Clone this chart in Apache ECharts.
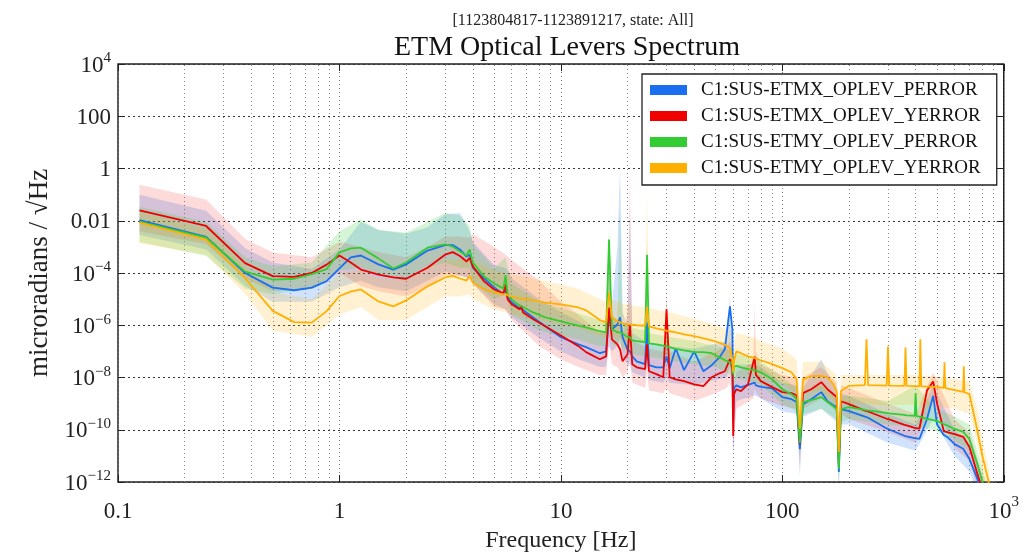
<!DOCTYPE html>
<html>
<head>
<meta charset="utf-8">
<title>ETM Optical Levers Spectrum</title>
<script src="https://cdn.jsdelivr.net/npm/echarts@6.0.0/dist/echarts.min.js"></script>
<style>
  html, body { margin: 0; padding: 0; background: #fff; }
  #chart { width: 1022px; height: 558px; }
</style>
</head>
<body>
<div id="chart"></div>
<script>
// values are log10(microradians / sqrt(Hz))
const freq = [
  0.125, 0.25, 0.375, 0.5, 0.625, 0.75, 0.875, 1, 1.125, 1.25,
  1.5, 1.75, 2, 2.5, 3, 3.25, 3.5, 3.75, 3.875, 4,
  4.5, 5, 5.5, 5.625, 5.75, 6, 6.5, 6.625, 6.75, 7.5,
  8.5, 10, 12, 13, 15, 16, 16.5, 17, 18, 18.5,
  19, 20, 20.5, 21, 22, 24, 24.5, 25, 27, 29,
  30, 31, 33, 36, 40, 44, 48, 52, 55, 58,
  59.5, 60, 60.5, 62, 65, 70, 75, 76, 80, 90,
  100, 110, 116, 120, 124, 135, 150, 160, 170, 176,
  180, 184, 200, 236, 240, 244, 296, 300, 304, 356,
  360, 364, 396, 400, 404, 416, 420, 424, 450, 480,
  500, 536, 540, 544, 560, 600, 656, 660, 664, 700,
  760, 800, 850, 900
];

const etmxPitch = [
  -1.98, -2.62, -4.00, -4.56, -4.66, -4.56, -4.31, -3.82, -3.40, -3.33,
  -3.67, -3.87, -3.67, -3.14, -2.93, -2.93, -3.10, -3.37, -3.30, -3.79,
  -4.21, -4.55, -4.82, -4.63, -4.93, -5.12, -5.35, -5.36, -5.42, -5.70,
  -6.04, -6.46, -6.73, -6.84, -7.07, -7.00, -5.66, -6.16, -5.97, -5.70,
  -6.46, -6.92, -7.00, -7.19, -7.38, -7.49, -5.90, -7.53, -7.61, -7.61,
  -7.20, -7.65, -6.88, -7.72, -7.00, -7.76, -7.53, -7.23, -6.92, -5.28,
  -6.16, -9.60, -8.40, -8.30, -8.38, -8.28, -8.20, -8.30, -8.36, -8.42,
  -8.75, -8.83, -8.94, -10.74, -9.02, -8.83, -8.56, -8.91, -9.06, -9.13,
  -11.62, -9.21, -9.29, -9.50, -9.52, -9.54, -9.95, -9.97, -9.99, -10.23,
  -10.24, -10.25, -10.32, -10.33, -10.34, -10.35, -10.36, -10.36, -9.60, -8.70,
  -9.80, -10.20, -10.22, -10.24, -10.30, -10.55, -10.73, -10.74, -10.75, -11.12,
  -11.88, -12.46, -13.2, -14.0
];

const etmxYaw = [
  -1.60, -2.20, -3.62, -4.12, -4.15, -4.00, -3.68, -3.33, -3.60, -3.87,
  -4.06, -4.17, -4.22, -3.80, -3.30, -3.20, -3.35, -3.56, -3.42, -3.74,
  -4.32, -4.63, -4.78, -4.44, -5.01, -5.20, -5.39, -5.25, -5.51, -5.77,
  -6.04, -6.39, -6.80, -7.03, -7.30, -7.19, -5.32, -6.54, -6.73, -6.92,
  -7.38, -7.11, -6.00, -7.49, -7.61, -7.68, -6.73, -7.76, -7.87, -7.99,
  -5.39, -7.99, -8.07, -8.14, -8.26, -8.33, -7.99, -7.84, -7.76, -7.30,
  -7.68, -10.24, -8.64, -8.45, -8.52, -8.26, -7.20, -7.90, -8.14, -8.37,
  -8.56, -8.60, -8.68, -10.55, -8.60, -8.45, -8.18, -8.45, -8.64, -8.75,
  -11.31, -8.91, -9.02, -9.27, -9.29, -9.30, -9.58, -9.59, -9.60, -9.81,
  -9.82, -9.83, -9.93, -9.94, -9.95, -9.96, -9.97, -9.95, -8.50, -8.15,
  -9.00, -10.05, -10.07, -10.08, -10.10, -10.17, -10.27, -10.28, -10.29, -10.66,
  -11.69, -12.27, -13.0, -14.0
];

const etmyPitch = [
  -2.03, -2.65, -3.95, -4.25, -4.22, -4.04, -3.85, -3.21, -3.06, -3.03,
  -3.44, -3.83, -3.60, -3.03, -2.90, -2.99, -3.18, -3.33, -3.10, -3.60,
  -4.13, -4.40, -4.59, -4.09, -4.82, -5.01, -5.24, -5.27, -5.30, -5.51,
  -5.70, -5.85, -6.01, -6.08, -6.23, -6.27, -2.72, -6.16, -6.27, -6.27,
  -6.31, -6.46, -6.46, -6.58, -6.61, -6.65, -3.30, -6.69, -6.73, -6.78,
  -6.81, -6.84, -6.90, -6.96, -7.03, -7.03, -7.07, -7.23, -7.33, -7.42,
  -7.49, -7.88, -7.60, -7.55, -7.61, -7.68, -7.72, -7.74, -7.80, -8.07,
  -8.45, -8.64, -8.83, -10.50, -8.94, -8.87, -8.75, -8.94, -9.10, -9.21,
  -11.50, -9.21, -9.13, -9.24, -9.25, -9.26, -9.35, -9.36, -9.37, -9.43,
  -9.44, -9.45, -9.47, -8.60, -9.48, -9.50, -9.50, -9.51, -9.58, -9.63,
  -9.67, -9.78, -9.79, -9.80, -9.85, -9.97, -10.08, -10.09, -10.10, -10.36,
  -11.31, -11.96, -12.8, -13.6
];

const etmyYaw = [
  -2.07, -2.72, -4.20, -5.45, -5.88, -5.90, -5.46, -4.88, -4.71, -4.63,
  -5.09, -5.28, -5.05, -4.51, -4.17, -4.11, -4.21, -4.29, -4.11, -4.36,
  -4.63, -4.74, -4.82, -4.80, -4.86, -4.90, -4.97, -4.98, -4.99, -5.05,
  -5.13, -5.20, -5.32, -5.43, -5.80, -5.90, -4.76, -5.70, -5.85, -5.88,
  -5.93, -5.97, -5.97, -5.98, -6.00, -6.02, -5.30, -6.04, -6.12, -6.18,
  -6.21, -6.23, -6.27, -6.35, -6.42, -6.50, -6.58, -6.67, -6.75, -6.88,
  -7.30, -7.80, -7.38, -7.00, -7.07, -7.19, -7.26, -7.27, -7.34, -7.49,
  -7.64, -7.80, -8.07, -9.97, -8.07, -7.95, -7.94, -7.99, -8.26, -8.52,
  -10.85, -8.52, -8.32, -8.29, -6.54, -8.29, -8.31, -6.81, -8.31, -8.32,
  -6.85, -8.32, -8.33, -8.33, -8.33, -8.34, -6.54, -8.34, -8.35, -8.36,
  -8.37, -8.40, -7.42, -8.40, -8.43, -8.48, -8.55, -7.57, -8.56, -8.64,
  -10.03, -10.99, -11.9, -13.0
];

// percentile bands, on a coarser grid
const bandFreq = [
  0.125, 0.25, 0.375, 0.5, 0.75, 1, 1.25, 1.5, 2, 2.5,
  3, 3.5, 3.875, 4, 5, 5.625, 6, 8, 10, 12,
  15, 16, 16.5, 17, 18, 18.5, 19, 20, 20.5, 21,
  24, 24.5, 25, 29, 30, 31, 40, 50, 56, 58,
  59, 60, 62, 74, 75, 76, 80, 100, 116, 120,
  124, 150, 176, 180, 184, 200, 300, 400, 480, 600,
  700, 760, 800, 850, 900
];

const etmxPitchHi = [
  -1.00, -1.62, -3.05, -3.60, -3.85, -3.10, -2.05, -2.35, -2.50, -2.25,
  -1.75, -1.70, -2.40, -2.80, -3.70, -3.80, -4.20, -5.00, -5.50, -5.85,
  -6.30, -6.30, -3.50, -5.20, -3.00, 0.10, -5.50, -6.00, -1.80, -6.30,
  -6.60, -5.00, -6.70, -6.80, -6.60, -6.80, -6.90, -6.70, -6.60, -4.90,
  -6.00, -8.50, -7.50, -7.50, -7.40, -7.50, -7.60, -8.20, -8.30, -10.00,
  -8.40, -7.30, -8.60, -10.50, -8.60, -8.70, -9.40, -9.80, -8.30, -10.00,
  -10.60, -11.30, -11.90, -12.60, -13.40
];
const etmxPitchLo = [
  -2.55, -3.10, -4.50, -5.10, -5.10, -4.55, -4.30, -4.55, -4.70, -4.30,
  -3.95, -4.10, -4.20, -4.40, -5.20, -5.40, -5.70, -6.50, -7.00, -7.30,
  -7.60, -7.60, -6.80, -7.00, -6.80, -6.50, -7.20, -7.50, -7.50, -7.80,
  -8.00, -7.50, -8.10, -8.20, -8.00, -8.20, -8.30, -8.10, -8.00, -7.60,
  -8.20, -10.80, -8.90, -8.70, -8.70, -8.70, -8.80, -9.30, -9.40, -11.80,
  -9.50, -9.20, -9.70, -12.50, -9.80, -9.80, -10.50, -10.80, -9.60, -11.00,
  -11.60, -12.40, -13.00, -13.70, -14.50
];
const etmxYawHi = [
  -0.62, -1.19, -2.70, -3.22, -3.40, -2.80, -3.00, -3.20, -3.40, -3.00,
  -2.60, -2.60, -2.65, -2.50, -3.00, -3.30, -3.50, -4.30, -5.10, -5.60,
  -6.30, -6.30, -4.40, -5.60, -5.90, -6.00, -6.40, -5.50, -0.15, -6.60,
  -6.80, -5.80, -6.90, -7.00, -4.80, -7.00, -7.40, -7.00, -6.80, -6.60,
  -6.80, -8.50, -7.80, -7.40, -5.20, -7.00, -7.50, -7.90, -8.00, -9.80,
  -8.00, -7.60, -8.20, -10.20, -8.30, -8.40, -9.00, -9.40, -7.80, -9.60,
  -10.10, -11.10, -11.70, -12.40, -13.20
];
const etmxYawLo = [
  -2.40, -2.90, -4.20, -4.70, -4.60, -4.00, -4.50, -4.70, -4.90, -4.55,
  -4.10, -4.10, -4.20, -4.40, -5.30, -5.40, -5.80, -6.80, -7.30, -7.60,
  -7.90, -7.90, -6.60, -7.50, -7.60, -7.80, -8.00, -7.80, -7.30, -8.20,
  -8.40, -7.80, -8.50, -8.60, -8.40, -8.60, -8.90, -8.60, -8.40, -8.20,
  -8.50, -11.00, -9.20, -8.80, -8.40, -8.60, -8.80, -9.10, -9.20, -11.40,
  -9.20, -8.80, -9.30, -12.00, -9.40, -9.60, -10.10, -10.50, -8.90, -10.70,
  -11.20, -12.20, -12.80, -13.50, -14.30
];
const etmyPitchHi = [
  -1.46, -2.05, -3.40, -3.75, -3.60, -2.40, -1.95, -2.35, -2.45, -2.05,
  -1.70, -1.80, -2.20, -2.90, -3.80, -3.40, -4.40, -5.10, -5.35, -5.55,
  -5.80, -5.80, -2.20, -5.60, -5.80, -1.50, -5.90, -6.00, -6.00, -6.10,
  -6.20, -2.90, -6.30, -6.40, -6.40, -6.45, -6.60, -6.80, -6.90, -7.00,
  -7.00, -7.50, -7.10, -7.20, -7.20, -7.20, -7.40, -8.00, -8.40, -9.80,
  -8.50, -8.30, -8.70, -10.60, -8.70, -8.70, -8.90, -8.30, -9.10, -9.50,
  -9.80, -10.80, -11.50, -12.30, -13.10
];
const etmyPitchLo = [
  -2.80, -3.35, -4.60, -4.80, -4.60, -3.90, -3.80, -4.10, -4.30, -3.80,
  -3.60, -3.80, -3.80, -4.30, -5.00, -4.80, -5.60, -6.20, -6.40, -6.55,
  -6.80, -6.80, -4.50, -6.70, -6.80, -6.70, -6.90, -7.00, -7.00, -7.10,
  -7.20, -4.50, -7.20, -7.30, -7.30, -7.35, -7.50, -7.60, -7.80, -7.90,
  -7.90, -8.60, -8.00, -8.20, -8.20, -8.20, -8.30, -9.00, -9.30, -11.00,
  -9.40, -9.20, -9.60, -12.00, -9.70, -9.60, -9.80, -9.90, -10.00, -10.40,
  -10.80, -11.80, -12.50, -13.30, -14.10
];
const etmyYawHi = [
  -1.66, -2.30, -3.70, -4.74, -5.00, -4.00, -3.90, -4.20, -4.30, -3.80,
  -3.50, -3.50, -3.40, -3.50, -3.90, -4.00, -4.05, -4.25, -4.45, -4.60,
  -5.00, -5.10, -3.90, -5.00, -5.10, -5.10, -5.20, -5.20, -5.20, -5.25,
  -5.30, -0.90, -5.35, -5.45, -5.50, -5.50, -5.75, -6.00, -6.15, -6.20,
  -6.25, -6.90, -6.30, -6.45, -6.50, -6.50, -6.60, -6.90, -7.30, -9.00,
  -7.40, -7.40, -7.90, -10.00, -7.90, -7.90, -7.90, -7.90, -7.95, -8.05,
  -8.15, -9.20, -10.30, -11.40, -12.50
];
const etmyYawLo = [
  -2.87, -3.30, -4.80, -6.20, -6.45, -5.60, -5.30, -5.80, -5.80, -5.30,
  -4.90, -4.90, -4.80, -5.00, -5.40, -5.50, -5.60, -5.80, -6.00, -6.10,
  -6.40, -6.50, -5.70, -6.40, -6.50, -6.50, -6.60, -6.60, -6.60, -6.60,
  -6.70, -5.90, -6.70, -6.80, -6.80, -6.80, -7.10, -7.30, -7.45, -7.50,
  -7.55, -8.60, -7.60, -7.85, -7.90, -7.90, -8.00, -8.20, -8.60, -10.60,
  -8.60, -8.50, -9.00, -11.30, -9.00, -9.00, -9.05, -9.05, -9.10, -9.20,
  -9.40, -10.60, -11.70, -12.60, -13.60
];

const names = [
  'C1:SUS-ETMX_OPLEV_PERROR',
  'C1:SUS-ETMX_OPLEV_YERROR',
  'C1:SUS-ETMY_OPLEV_PERROR',
  'C1:SUS-ETMY_OPLEV_YERROR'
];
const medians = [etmxPitch, etmxYaw, etmyPitch, etmyYaw];
const highs = [etmxPitchHi, etmxYawHi, etmyPitchHi, etmyYawHi];
const lows = [etmxPitchLo, etmxYawLo, etmyPitchLo, etmyYawLo];

const colors = ['#1a6ff0', '#f00000', '#33cc33', '#ffb000'];
const bandColors = [
  'rgba(26,111,240,0.2)',
  'rgba(240,0,0,0.14)',
  'rgba(51,204,51,0.2)',
  'rgba(255,176,0,0.18)'
];

// log-axis minor grid positions (2..9 in each decade)
const decades = [0.1, 1, 10, 100];
const minorSteps = [2, 3, 4, 5, 6, 7, 8, 9];
const minorGrid = [];
decades.forEach(d => minorSteps.forEach(m => minorGrid.push(+(d * m).toPrecision(3))));

const FONT = 'Liberation Serif';

function powLabel(v, plain) {
  const n = Math.round(Math.log10(v));
  if (plain[n] !== undefined) return '{b|' + plain[n] + '}';
  return '{b|10}{s|' + (n < 0 ? '\u2212' + (-n) : n) + '}';
}
const richX = {
  b: { fontFamily: FONT, fontSize: 23, lineHeight: 28, verticalAlign: 'bottom', color: '#222' },
  s: { fontFamily: FONT, fontSize: 15, lineHeight: 12, verticalAlign: 'top', color: '#222' }
};
const richY = {
  b: { fontFamily: FONT, fontSize: 23, lineHeight: 26, verticalAlign: 'bottom', color: '#222' },
  s: { fontFamily: FONT, fontSize: 15, lineHeight: 10, verticalAlign: 'top', color: '#222' }
};

function bandSeries(k) {
  const upper = bandFreq.map((f, i) => [f, 10 ** highs[k][i]]);
  const lower = bandFreq.map((f, i) => [f, 10 ** lows[k][i]]).reverse();
  const outline = upper.concat(lower);
  return {
    type: 'custom', name: names[k] + ' band', silent: true, z: 1, clip: true,
    encode: { x: 0, y: 1 },
    data: outline,
    renderItem: (params, api) => {
      if (params.dataIndex !== 0) return;
      const cs = params.coordSys;
      return {
        type: 'polygon',
        shape: { points: outline.map(p => api.coord(p)) },
        style: { fill: bandColors[k] },
        clipPath: { type: 'rect', shape: { x: cs.x, y: cs.y, width: cs.width, height: cs.height } }
      };
    }
  };
}

const series = names.map((n, k) => bandSeries(k));
names.forEach((name, k) => {
  series.push({
    name, type: 'line', color: colors[k],
    data: freq.map((f, i) => [f, 10 ** medians[k][i]]),
    symbol: 'none', lineStyle: { width: 1.8, color: colors[k] }, z: 3
  });
});
series[4].markLine = {
  silent: true, symbol: 'none', label: { show: false },
  lineStyle: { type: [1, 3], color: '#888', width: 1 },
  data: minorGrid.map(x => ({ xAxis: x })),
  z: 0
};

const chart = echarts.init(document.getElementById('chart'));
chart.setOption({
  animation: false,
  backgroundColor: '#fff',
  textStyle: { fontFamily: FONT },
  title: [
    {
      text: '[1123804817-1123891217, state: All]',
      left: 568, top: 8, textAlign: 'center',
      textStyle: { fontFamily: FONT, fontSize: 16, fontWeight: 'normal', color: '#222' }
    },
    {
      text: 'ETM Optical Levers Spectrum',
      left: 562, top: 29, textAlign: 'center',
      textStyle: { fontFamily: FONT, fontSize: 28, fontWeight: 'normal', color: '#111' }
    }
  ],
  legend: {
    data: names, orient: 'vertical', left: 642, top: 74,
    icon: 'rect', itemWidth: 37, itemHeight: 10, itemGap: 6,
    padding: [6, 16, 7, 8],
    backgroundColor: '#fff', borderColor: '#222', borderWidth: 1.3,
    textStyle: { fontFamily: FONT, fontSize: 19, color: '#111', lineHeight: 20, padding: [0, 0, 0, 9] },
    selectedMode: false
  },
  grid: {
    left: 118, right: 15, top: 64, bottom: 75,
    show: true, borderColor: '#222', borderWidth: 1.5, backgroundColor: 'transparent'
  },
  xAxis: [
    {
      type: 'log', logBase: 10, min: 0.1, max: 1000, splitNumber: 4,
      name: 'Frequency [Hz]', nameLocation: 'middle', nameGap: 47,
      nameTextStyle: { fontFamily: FONT, fontSize: 24, color: '#222' },
      axisLine: { show: false },
      axisTick: { inside: true, length: 7, lineStyle: { color: '#222' } },
      axisLabel: {
        margin: 13, color: '#222', fontFamily: FONT,
        formatter: v => powLabel(v, { '-1': '0.1', 0: '1', 1: '10', 2: '100' }),
        rich: richX
      },
      splitLine: { show: true, lineStyle: { type: [1, 3], color: '#777', width: 1 } }
    },
    {
      type: 'log', logBase: 10, min: 0.1, max: 1000, splitNumber: 4, position: 'top',
      axisLine: { show: false }, axisLabel: { show: false }, splitLine: { show: false },
      axisTick: { inside: true, length: 7, lineStyle: { color: '#222' } }
    }
  ],
  yAxis: [
    {
      type: 'log', logBase: 10, min: 1e-12, max: 1e4, interval: 2,
      name: 'microradians / \u221AHz', nameLocation: 'middle', nameGap: 64,
      nameTextStyle: { fontFamily: FONT, fontSize: 27, color: '#222' },
      axisLine: { show: false },
      axisTick: { inside: true, length: 7, lineStyle: { color: '#222' } },
      axisLabel: {
        margin: 7, color: '#222', fontFamily: FONT, showMinLabel: true, showMaxLabel: true,
        formatter: v => powLabel(v, { 2: '100', 0: '1', '-2': '0.01' }),
        rich: richY
      },
      splitLine: { show: true, lineStyle: { type: [2, 3], color: '#333', width: 1 } }
    },
    {
      type: 'log', logBase: 10, min: 1e-12, max: 1e4, interval: 2, position: 'right',
      axisLine: { show: false }, axisLabel: { show: false }, splitLine: { show: false },
      axisTick: { inside: true, length: 7, lineStyle: { color: '#222' } }
    }
  ],
  series
});
window.addEventListener('resize', () => chart.resize());
</script>
</body>
</html>
